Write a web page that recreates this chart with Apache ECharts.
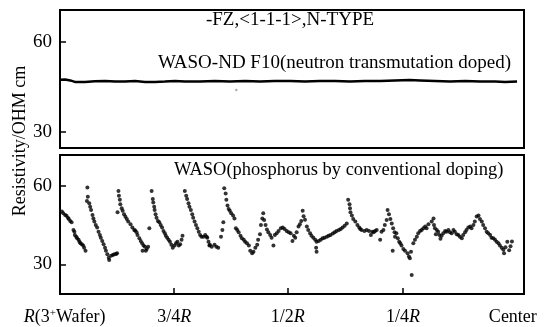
<!DOCTYPE html>
<html>
<head>
<meta charset="utf-8">
<script src="https://cdn.jsdelivr.net/npm/echarts@6/dist/echarts.min.js"></script>
<style>
  html, body { margin: 0; padding: 0; background: #fff; }
  #chart { width: 547px; height: 327px; }
</style>
</head>
<body>
<div id="chart"></div>
<script>
// radial position, 0 = wafer edge (R), 100 = wafer edge box end
var tickPos = [24.6, 49.1, 73.9];
var labelPos = [1, 24.6, 49.1, 73.9, 97.6];
var labelText = ["{i|R}(3{s|+}Wafer)", "3/4{i|R}", "1/2{i|R}", "1/4{i|R}", "Center"];
var yTicks = [30, 60];

// WASO-ND F10 (neutron transmutation doped)
var ntdX = [0, 1.1, 2.2, 3.2, 5.4, 7.5, 9.7, 11.9, 14.0, 16.2, 18.3, 20.5, 22.6, 24.8, 26.9, 30.2, 33.4, 36.6, 39.9, 43.1,
  46.3, 49.6, 52.8, 56.0, 59.3, 62.5, 65.7, 69.0, 72.2, 75.4, 77.6, 80.8, 84.1, 87.3, 90.5, 93.8, 95.9, 98.5];
var ntdY = [47.3, 47.4, 47.1, 46.6, 46.6, 46.8, 46.9, 46.7, 46.7, 46.9, 46.6, 46.6, 46.7, 46.9, 46.7, 46.7, 46.9, 46.7, 46.9, 46.7,
  46.9, 46.9, 46.7, 46.9, 46.9, 46.7, 46.9, 46.9, 47.1, 47.2, 47.1, 46.9, 46.7, 46.9, 46.7, 46.7, 46.6, 46.7];
var ntdStray = [[38.0, 43.9]];

// WASO (phosphorus by conventional doping)
var convPoints = [
  [0.4,50.2],[0.7,49.6],[1.1,48.9],[1.4,48.6],[1.7,47.9],[1.9,47.4],[2.2,46.6],[2.5,46.1],[2.9,43.2],[3.1,42.5],
  [3.2,41.3],[3.5,40.6],[3.7,40.0],[4.0,39.4],[4.2,38.7],[4.4,38.1],[4.7,37.7],[5.0,37.2],[5.2,36.4],[5.5,35.2],
  [5.9,59.4],[6.0,55.9],[5.8,54.3],[6.3,53.4],[6.5,52.1],[6.7,50.8],[7.0,48.9],[7.2,47.6],[7.4,46.4],[7.7,45.1],
  [8.0,44.1],[8.3,42.5],[8.6,41.3],[8.8,40.2],[9.1,39.0],[9.4,37.7],[9.7,36.4],[9.9,35.2],[10.2,33.9],[10.5,32.6],
  [10.6,31.7],[11.0,33.3],[11.4,33.6],[11.7,33.9],[12.1,34.0],[12.3,34.3],
  [12.6,58.1],[12.7,56.3],[12.9,54.7],[13.0,53.0],[12.4,50.0],[13.3,51.5],[13.5,50.5],[13.8,49.2],[14.1,48.2],[14.4,47.4],
  [14.7,46.4],[15.2,45.4],[15.6,44.1],[16.0,43.2],[16.2,43.0],[16.5,42.3],[16.7,41.3],[17.1,40.0],[17.4,39.0],[17.7,38.1],
  [18.0,37.2],[18.3,36.8],[18.7,35.9],[18.5,35.2],[17.8,35.2],[19.0,36.8],
  [19.25,43.8],[19.75,58.1],[20.0,55.0],[20.1,53.7],[20.3,52.1],[20.4,50.8],[20.6,49.2],[20.8,47.9],[21.1,46.6],[21.4,46.1],
  [21.7,45.1],[22.0,44.1],[22.3,42.8],[22.6,41.9],[22.8,41.0],[23.1,40.2],[23.4,39.4],[23.7,38.7],[24.0,37.5],[24.3,36.4],
  [24.7,37.2],[25.0,38.1],[25.3,38.7],[25.6,37.2],[25.9,37.7],[26.2,39.4],[26.4,41.0],
  [26.9,58.1],[27.2,56.3],[27.4,55.0],[27.7,53.4],[27.9,52.1],[28.2,50.8],[28.5,49.2],[28.7,47.9],[29.0,46.4],[29.3,45.1],
  [29.6,43.8],[29.9,42.5],[30.2,41.3],[30.5,40.6],[30.9,40.6],[31.3,41.3],[31.6,40.6],[31.75,40.2],[32.0,38.7],[32.2,37.2],
  [32.3,37.5],[32.7,36.8],[33.3,37.5],[33.7,36.8],[34.1,36.4],[34.7,40.6],[35.0,43.2],[35.2,46.1],
  [35.4,59.1],[35.7,57.1],[35.85,54.7],[36.1,52.5],[36.35,51.2],[36.6,50.5],[36.9,49.6],[37.3,48.7],[37.6,47.6],[37.9,43.8],
  [38.2,43.2],[38.5,42.3],[38.9,41.0],[39.2,40.0],[39.6,39.4],[39.9,38.7],[40.3,38.1],[40.7,37.2],[41.0,35.2],[41.4,34.3],
  [41.7,34.9],[42.1,36.4],[42.5,37.5],[42.7,39.4],[43.1,41.5],[43.3,45.1],[43.6,47.6],[43.8,49.6],[44.0,47.0],[44.3,45.1],
  [44.6,43.4],[44.9,42.3],[45.3,41.3],[45.6,40.2],[46.0,37.2],[46.3,41.3],[46.7,41.9],[47.1,42.8],[47.6,43.8],[48.0,44.1],
  [48.4,43.6],[48.85,42.8],[49.3,42.3],[49.7,41.9],[50.1,39.0],[50.4,41.0],[50.7,40.2],[51.0,42.3],[51.4,44.5],[51.7,45.4],
  [52.0,46.6],[52.3,50.5],[52.5,48.4],[52.8,47.1],[53.2,44.5],[53.5,43.2],[53.9,41.9],[54.2,41.0],[54.6,40.2],[55.0,39.4],
  [55.3,38.7],[55.2,36.4],[55.3,34.9],[55.75,39.0],[56.2,39.4],[56.6,40.0],[57.0,40.2],[57.5,40.6],[57.9,41.0],[58.3,41.3],
  [58.8,41.8],[59.2,42.3],[59.6,42.8],[60.1,43.2],[60.5,43.6],[60.9,44.1],[61.35,44.8],[61.8,45.7],
  [62.1,54.7],[62.4,53.0],[62.5,51.5],[62.6,50.0],[62.9,48.7],[63.2,47.4],[63.65,46.4],[64.1,45.1],[64.5,44.1],[64.7,43.6],
  [65.0,43.2],[65.6,42.8],[66.1,43.2],[66.6,42.8],[67.0,41.3],[67.3,42.5],[67.6,42.3],[67.9,42.8],[68.25,43.2],[69.0,39.4],
  [69.3,42.5],[69.7,43.2],[70.0,45.1],[70.4,47.0],[70.6,50.8],[70.9,49.2],[71.2,47.4],[71.5,45.7],[71.7,35.2],[71.8,43.8],
  [72.1,42.3],[72.2,40.6],[72.5,41.9],[72.8,40.0],[73.1,38.7],[73.35,38.1],[73.6,37.2],[74.0,35.9],[74.35,35.2],[74.9,34.3],
  [75.2,33.0],[75.4,32.4],[75.65,34.9],[75.8,26.0],[76.15,38.1],[76.5,39.4],[76.9,40.6],[77.2,41.9],[77.6,42.8],[77.95,43.2],
  [78.3,43.8],[78.7,44.5],[79.0,43.8],[79.4,45.4],[80.1,46.4],[80.5,47.6],
  [80.6,45.1],[80.8,43.8],[81.2,43.2],[81.5,42.5],[81.0,41.5],[81.75,41.3],[82.25,41.0],[82.0,39.8],[82.6,41.9],[83.0,42.8],
  [83.3,42.5],[83.7,43.2],[84.05,42.3],[84.4,41.9],[84.8,43.2],[85.1,42.5],[85.5,41.5],[85.85,41.3],[86.2,40.6],[86.6,40.0],
  [86.9,41.3],[87.3,42.3],[87.6,43.2],[88.0,44.1],[88.4,44.5],[88.7,43.8],[89.1,45.1],[89.4,46.4],[89.8,48.3],[90.2,48.7],
  [90.5,47.4],[90.9,46.4],[91.2,45.1],[91.6,43.8],[91.95,42.5],[92.3,41.9],[92.7,41.3],[93.0,40.2],[93.4,40.0],[93.75,39.4],
  [94.1,38.7],[94.5,38.1],[94.8,37.2],[95.2,36.4],[95.55,35.6],[95.7,34.3],[96.0,36.6],[96.4,38.7],[96.8,35.4],[97.1,37.0],
  [97.4,38.8]
];

var serif = "'Liberation Serif', 'DejaVu Serif', serif";

var chart = echarts.init(document.getElementById("chart"));

function ntdLine() {
  var arr = [];
  for (var i = 0; i < ntdX.length; i++) {
    arr.push([ntdX[i], ntdY[i]]);
  }
  return arr;
}

function yAxisOf(idx, min, max) {
  return {
    type: "value",
    gridIndex: idx,
    min: min,
    max: max,
    splitLine: { show: false },
    axisLine: { show: false },
    axisTick: {
      show: true,
      inside: true,
      length: 6,
      customValues: yTicks,
      lineStyle: { color: "#000", width: 1.5 }
    },
    axisLabel: {
      customValues: yTicks,
      margin: 8,
      color: "#000",
      fontFamily: serif,
      fontSize: 19
    }
  };
}

var option = {
  animation: false,
  backgroundColor: "#fff",
  grid: [
    { left: 60, right: 23, top: 10, height: 138, show: true, borderColor: "#000", borderWidth: 2, backgroundColor: "transparent" },
    { left: 60, right: 23, top: 155, height: 139, show: true, borderColor: "#000", borderWidth: 2, backgroundColor: "transparent" }
  ],
  xAxis: [
    {
      type: "value",
      gridIndex: 0,
      min: 0,
      max: 100,
      axisLine: { show: false },
      axisTick: { show: false },
      axisLabel: { show: false },
      splitLine: { show: false }
    },
    {
      type: "value",
      gridIndex: 1,
      min: 0,
      max: 100,
      axisLine: { show: false },
      splitLine: { show: false },
      axisTick: {
        show: true,
        inside: true,
        length: 6,
        customValues: tickPos,
        lineStyle: { color: "#000", width: 1.5 }
      },
      axisLabel: {
        customValues: labelPos,
        margin: 14,
        color: "#000",
        fontFamily: serif,
        fontSize: 18,
        formatter: function (v) {
          var i = labelPos.indexOf(v);
          return i >= 0 ? labelText[i] : "";
        },
        rich: {
          i: { fontFamily: serif, fontSize: 18, fontStyle: "italic", color: "#000" },
          s: { fontFamily: serif, fontSize: 11, verticalAlign: "top", color: "#000" }
        }
      }
    }
  ],
  yAxis: [yAxisOf(0, 24.57, 70.57), yAxisOf(1, 18.7, 71.85)],
  graphic: [
    {
      type: "text",
      x: 290, y: 20,
      style: { text: "-FZ,<1-1-1>,N-TYPE", font: "19px " + serif, fill: "#000", align: "center", verticalAlign: "middle" }
    },
    {
      type: "text",
      x: 158, y: 63,
      style: { text: "WASO-ND F10(neutron transmutation doped)", font: "19px " + serif, fill: "#000", align: "left", verticalAlign: "middle" }
    },
    {
      type: "text",
      x: 174, y: 170,
      style: { text: "WASO(phosphorus by conventional doping)", font: "18.5px " + serif, fill: "#000", align: "left", verticalAlign: "middle" }
    },
    {
      type: "text",
      x: 20, y: 141,
      rotation: Math.PI / 2,
      style: { text: "Resistivity/OHM cm", font: "18px " + serif, fill: "#000", align: "center", verticalAlign: "middle" }
    }
  ],
  series: [
    {
      name: "WASO-ND F10",
      type: "line",
      xAxisIndex: 0,
      yAxisIndex: 0,
      showSymbol: false,
      data: ntdLine(),
      lineStyle: { color: "#000", width: 2.5 }
    },
    {
      name: "stray",
      type: "scatter",
      xAxisIndex: 0,
      yAxisIndex: 0,
      symbolSize: 2.5,
      data: ntdStray,
      itemStyle: { color: "#999" }
    },
    {
      name: "WASO",
      type: "scatter",
      xAxisIndex: 1,
      yAxisIndex: 1,
      symbolSize: 4,
      data: convPoints,
      itemStyle: { color: "#000" }
    }
  ]
};

chart.setOption(option);
</script>
</body>
</html>
